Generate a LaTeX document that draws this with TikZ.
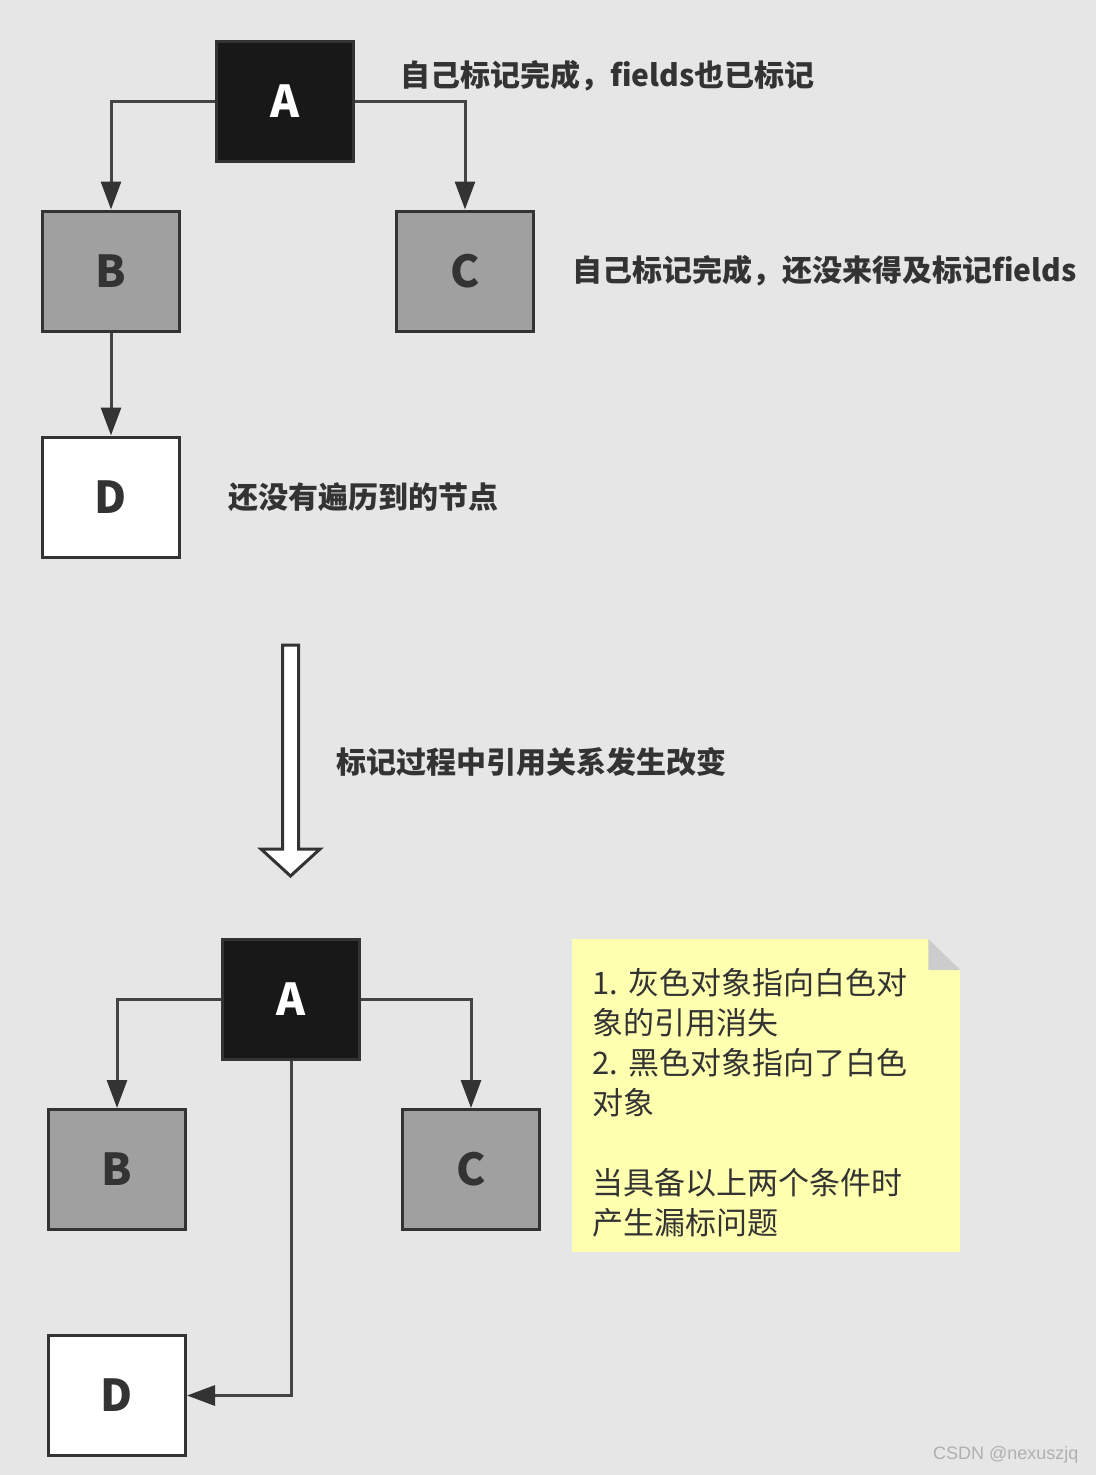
\documentclass[tikz,border=0pt]{standalone}
\usepackage{fontspec}
\usetikzlibrary{positioning,arrows.meta,calc}
\newfontfamily\cjk{Noto Sans CJK SC}
\newfontfamily\markfont{Liberation Sans}
\definecolor{gcbg}{HTML}{E6E6E6}
\definecolor{gcblack}{HTML}{181818}
\definecolor{gcgrey}{HTML}{A0A0A0}
\definecolor{gcline}{HTML}{333333}
\definecolor{gcedge}{HTML}{444444}
\definecolor{gcnote}{HTML}{FFFFB0}
\definecolor{gcfold}{HTML}{CCCCCC}
\definecolor{gcmark}{HTML}{B0B0B0}

\begin{document}
\begin{tikzpicture}[
      x=1pt, y=-1pt,
      font=\cjk,
      obj/.style={draw=gcline, line width=3pt, inner sep=0pt,
                  minimum width=137pt, minimum height=120pt, text=gcline,
                  font=\cjk\bfseries\fontsize{44}{48}\selectfont},
      blackobj/.style={obj, fill=gcblack, text=white},
      greyobj/.style={obj, fill=gcgrey},
      whiteobj/.style={obj, fill=white},
      ref/.style={draw=gcedge, line width=3pt,
                  -{Triangle[length=28pt, width=20pt, color=gcline]}},
      lbl/.style={font=\cjk\bfseries\fontsize{30}{34}\selectfont,
                  text=gcline, inner sep=0pt},
      hollow/.style={draw=gcline, fill=white, line width=3pt, line join=miter},
      notebox/.style={fill=gcnote, minimum width=388pt, minimum height=313pt,
                      text width=348pt, inner xsep=20pt, align=left, text=gcline,
                      font=\cjk\frenchspacing\fontsize{31}{40}\selectfont}
    ]
    \fill[gcbg] (0,0) rectangle (1096,1475);
    \useasboundingbox (0,0) rectangle (1096,1475);

    % before: tri-colour state
    \node[blackobj] (a) at (285,101) {A};
    \node[greyobj, below left=47pt and 34pt of a] (b) {B};
    \node[greyobj, below right=47pt and 40pt of a] (c) {C};
    \node[whiteobj, below=103pt of b] (d) {D};

    \node[lbl, right=45pt of a, yshift=25pt] (lbla) {自己标记完成，fields也已标记};
    \node[lbl, right=37pt of c] (lblc) {自己标记完成，还没来得及标记fields};
    \node[lbl, right=47pt of d] (lbld) {还没有遍历到的节点};

    \draw[ref] (a.west) -| (b.north);
    \draw[ref] (a.east) -| (c.north);
    \draw[ref] (b) -- (d);

    % change of references
    \coordinate (flowtop) at (290.5,645);
    \coordinate (flowtip) at (290.5,876);
    \draw[hollow] ($(flowtop)+(-8,0)$) -- ($(flowtop)+(8,0)$)
      -- ($(flowtip)+(8,-27)$) -- ($(flowtip)+(29.5,-27)$) -- (flowtip)
      -- ($(flowtip)+(-29.5,-27)$) -- ($(flowtip)+(-8,-27)$) -- cycle;
    \node[lbl, anchor=west] (lblflow) at (336,762) {标记过程中引用关系发生改变};

    % after: lost mark
    \node[blackobj] (a2) at (291,999.5) {A};
    \node[greyobj, below left=47pt and 34pt of a2] (b2) {B};
    \node[greyobj, below right=47pt and 40pt of a2] (c2) {C};
    \node[whiteobj, below=103pt of b2] (d2) {D};

    \draw[ref] (a2.west) -| (b2.north);
    \draw[ref] (a2.east) -| (c2.north);
    \draw[ref] (a2.south) |- (d2.east);

    \node[notebox, anchor=north west] (note) at (572,939)
      {\rule{0pt}{41pt}1. 灰色对象指向白色对\\象的引用消失\\2. 黑色对象指向了白色\\对象\\[40pt]当具备以上两个条件时\\产生漏标问题};
    \fill[gcbg] (note.north east) -- ++(-32,0) -- ++(32,31) -- cycle;
    \fill[gcfold] ($(note.north east)+(-32,0)$) -- ++(0,31) -- ++(32,0) -- cycle;

    \node[font=\markfont\fontsize{18}{20}\selectfont, text=gcmark, anchor=east]
      (mark) at (1082,1455) {CSDN @nexuszjq};
  \end{tikzpicture}
\end{document}
